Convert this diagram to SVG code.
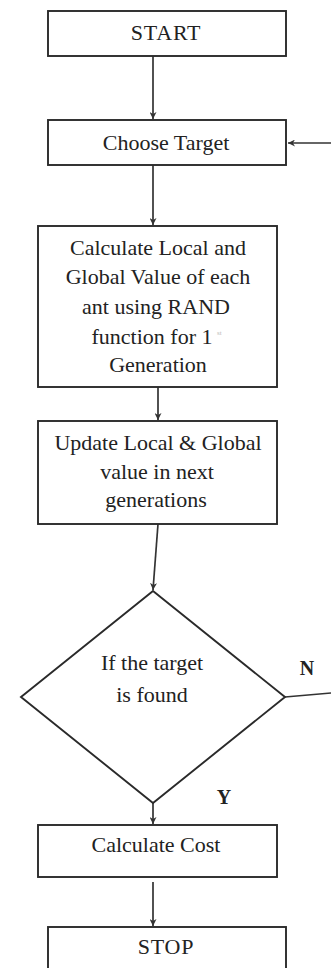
<svg xmlns="http://www.w3.org/2000/svg" width="331" height="968" viewBox="0 0 331 968">
<style>
.box{fill:#fff;stroke:#2a2a2a;stroke-width:1.9}
.t{font-family:"Liberation Serif","Times New Roman",serif;font-size:22px;fill:#222;text-anchor:middle}
.lbl{font-family:"Liberation Serif","Times New Roman",serif;font-size:20px;font-weight:bold;fill:#222;text-anchor:middle}
.c{stroke:#333;stroke-width:1.7;fill:none}
</style>
<defs>
<marker id="ah" viewBox="0 0 10 10" refX="10" refY="5" markerWidth="7" markerHeight="7" orient="auto" markerUnits="userSpaceOnUse">
<path d="M0,0 L10,5 L0,10 L3,5 z" fill="#333"/>
</marker>
</defs>
<rect width="331" height="968" fill="#fff"/>
<g id="connectors">
<line class="c" x1="153" y1="56" x2="153" y2="119" marker-end="url(#ah)"/>
<line class="c" x1="153" y1="165" x2="153" y2="225" marker-end="url(#ah)"/>
<line class="c" x1="158" y1="387" x2="158" y2="420" marker-end="url(#ah)"/>
<line class="c" x1="158" y1="524" x2="153" y2="590" marker-end="url(#ah)"/>
<line class="c" x1="285" y1="697" x2="331" y2="693"/>
<line class="c" x1="331" y1="143" x2="288" y2="143" marker-end="url(#ah)"/>
<line class="c" x1="153" y1="803" x2="153" y2="824" marker-end="url(#ah)"/>
<line class="c" x1="153" y1="882" x2="153" y2="926" marker-end="url(#ah)"/>
</g>
<g id="start">
<rect class="box" x="48" y="11" width="238" height="45"/>
<text class="t" x="166" y="40" letter-spacing="0.8">START</text>
</g>
<g id="choose">
<rect class="box" x="48" y="120" width="238" height="45"/>
<text class="t" x="166" y="150">Choose Target</text>
</g>
<g id="calc">
<rect class="box" x="38" y="226" width="239" height="161"/>
<text class="t" x="158" y="255">Calculate Local and</text>
<text class="t" x="158" y="284">Global Value of each</text>
<text class="t" x="156" y="314">ant using RAND</text>
<text class="t" x="152" y="344">function for 1</text>
<text x="217" y="335" font-family="Liberation Serif,serif" font-size="7" fill="#bbb">st</text>
<text class="t" x="158" y="372">Generation</text>
</g>
<g id="update">
<rect class="box" x="38" y="421" width="239" height="103"/>
<text class="t" x="158" y="450">Update Local &amp; Global</text>
<text class="t" x="157" y="479">value in next</text>
<text class="t" x="156" y="507">generations</text>
</g>
<g id="decision">
<polygon class="box" points="153,591 285,697 153,803 21,697"/>
<text class="t" x="152" y="670">If the target</text>
<text class="t" x="152" y="702">is found</text>
</g>
<text class="lbl" x="307" y="675">N</text>
<text class="lbl" x="224" y="804">Y</text>
<g id="cost">
<rect class="box" x="38" y="825" width="239" height="52"/>
<text class="t" x="156" y="852">Calculate Cost</text>
</g>
<g id="stop">
<rect class="box" x="48" y="927" width="238" height="60"/>
<text class="t" x="166" y="954" letter-spacing="0.8">STOP</text>
</g>
</svg>
